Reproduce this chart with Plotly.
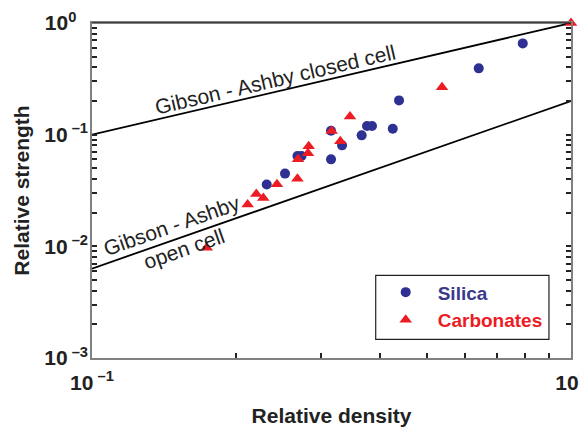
import plotly.graph_objects as go

# ---- data ----
silica_density = [0.2316, 0.2529, 0.2685, 0.2738, 0.3155, 0.3155, 0.3327,
                  0.3656, 0.3751, 0.3842, 0.4245, 0.4375, 0.6418, 0.7930]
silica_strength = [0.0358, 0.0448, 0.0643, 0.0643, 0.0601, 0.1084, 0.0802,
                   0.0986, 0.1194, 0.1194, 0.1129, 0.2028, 0.3924, 0.6569]

carb_density = [0.1736, 0.2113, 0.2203, 0.2278, 0.2433, 0.2685, 0.2692,
                0.2824, 0.2834, 0.3165, 0.3299, 0.3456, 0.5379, 1.0]
carb_strength = [0.00972, 0.02366, 0.02938, 0.02706, 0.0359, 0.0403, 0.0602,
                 0.068, 0.0786, 0.1077, 0.0871, 0.1458, 0.2652, 1.0]

model_density = [0.1, 1.0]
closed_cell_strength = [0.1, 1.0]
open_cell_strength = [0.00632, 0.2]

x_tickvals = [0.1, 1.0]
x_ticktext = ["10<sup> \u20131</sup>", "10<sup>0</sup>"]
y_tickvals = [0.001, 0.01, 0.1, 1.0]
y_ticktext = ["10<sup> \u20133</sup>", "10<sup> \u20132</sup>", "10<sup> \u20131</sup>",
              "10<sup>0</sup>\u00a0\u00a0"]

BLUE = "#2e3192"
RED = "#ed1c24"
AXIS_GREY = "#808080"
FONT = "Liberation Sans, Arial, sans-serif"

fig = go.Figure()

fig.add_trace(go.Scatter(x=model_density, y=closed_cell_strength, mode="lines",
                         line=dict(color="black", width=1.8), showlegend=False,
                         hoverinfo="skip"))
fig.add_trace(go.Scatter(x=model_density, y=open_cell_strength, mode="lines",
                         line=dict(color="black", width=1.8), showlegend=False,
                         hoverinfo="skip"))

fig.add_trace(go.Scatter(x=silica_density, y=silica_strength, mode="markers",
                         name="<span style='color:#3a3a8c'>Silica</span>",
                         marker=dict(symbol="circle", size=10, color=BLUE,
                                     line=dict(width=0))))
fig.add_trace(go.Scatter(x=carb_density, y=carb_strength, mode="markers",
                         name="<span style='color:#ed1c24'>Carbonates</span>",
                         cliponaxis=False,
                         marker=dict(symbol="triangle-up", size=11, color=RED,
                                     line=dict(width=0))))

axis_common = dict(
    type="log", showgrid=False, zeroline=False, automargin=False,
    showline=True, linecolor=AXIS_GREY, linewidth=1.5,
    ticks="inside", ticklen=5, tickcolor="#222", tickwidth=1.5,
    minor=dict(ticks="inside", ticklen=5, tickcolor="#222", tickwidth=1.5,
               dtick="D1", showgrid=False),
    tickfont=dict(family=FONT, size=21, color="#222", weight="bold"),
    title_font=dict(family=FONT, size=21, color="#222", weight="bold"),
    ticklabeloverflow="allow",
)

fig.update_xaxes(**axis_common, range=[-1, 0], mirror=True,
                 tickvals=x_tickvals, ticktext=x_ticktext,
                 ticklabelstandoff=5,
                 title=dict(text="Relative density", standoff=15))
fig.update_yaxes(**axis_common, range=[-3, 0], mirror="allticks",
                 tickvals=y_tickvals, ticktext=y_ticktext,
                 ticklabelstandoff=-2,
                 title=dict(text="Relative strength", standoff=9))

ann_font = dict(family=FONT, size=21, color="#222")
fig.add_annotation(x=-0.618, y=-0.5067, xref="x", yref="y",
                   text="Gibson - Ashby closed cell", showarrow=False,
                   textangle=-13.1, font=ann_font)
fig.add_annotation(x=-0.834, y=-1.8093, xref="x", yref="y",
                   text="Gibson - Ashby", showarrow=False,
                   textangle=-19.3, font=ann_font)
fig.add_annotation(x=-0.8069, y=-2.0197, xref="x", yref="y",
                   text="open cell", showarrow=False,
                   textangle=-19.3, font=ann_font)

# black top frame line and legend box
fig.add_shape(type="line", xref="paper", yref="paper", x0=0, x1=1, y0=1, y1=1,
              line=dict(color="black", width=1.2))
fig.add_shape(type="rect", xref="paper", yref="paper",
              x0=0.5923, x1=0.954, y0=0.0558, y1=0.2469,
              line=dict(color="#222", width=1.2), fillcolor="rgba(0,0,0,0)")

# the page body adds an 8 px offset; margins are shifted to compensate
fig.update_layout(
    width=587, height=427,
    margin=dict(l=84, r=24, t=15, b=77),
    paper_bgcolor="white", plot_bgcolor="white",
    legend=dict(x=0.5881, y=0.2529, xanchor="left", yanchor="top",
                bgcolor="rgba(0,0,0,0)", borderwidth=0, itemwidth=54,
                tracegroupgap=0,
                font=dict(family=FONT, size=19, weight="bold")),
)

fig.write_html("out.html")
